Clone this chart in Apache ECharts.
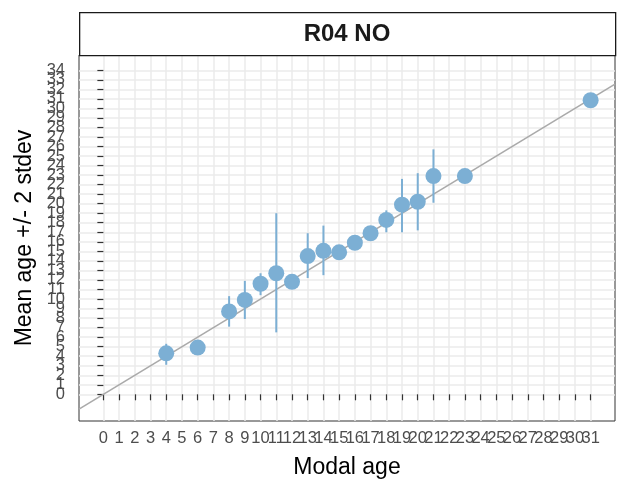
<!DOCTYPE html>
<html>
<head>
<meta charset="utf-8">
<script src="https://cdn.jsdelivr.net/npm/echarts@6/dist/echarts.min.js"></script>
<style>
html,body{margin:0;padding:0;background:#fff;}
#chart{width:621px;height:487px;}
</style>
</head>
<body>
<div id="chart"></div>
<script>
// Data
const panelTitle = "R04 NO";
const modalAge = [4, 6, 8, 9, 10, 11, 12, 13, 14, 15, 16, 17, 18, 19, 20, 21, 23, 31];
const meanAge  = [4.3, 4.9, 8.7, 9.9, 11.6, 12.7, 11.8, 14.5, 15.05, 14.9, 15.9, 16.9, 18.3, 19.9, 20.2, 22.9, 22.9, 30.85];
const lowerAge = [3.1, null, 7.1, 7.9, 10.4, 6.5, null, 12.2, 12.5, null, null, null, 17.0, 17.0, 17.2, 20.1, null, null];
const upperAge = [5.3, null, 10.3, 11.9, 12.7, 19.0, null, 16.9, 17.7, null, null, null, 19.3, 22.6, 23.2, 25.7, null, null];
const xTicks = Array.from({length: 32}, (_, i) => i);
const yTicks = Array.from({length: 35}, (_, i) => i);
const xLimits = [-1.55, 32.55];
const yLimits = [-2.8, 35.6];
const abline = {intercept: 0, slope: 1};

const pointColor = '#7cafd4';
const chart = echarts.init(document.getElementById('chart'), null, {renderer: 'canvas'});

const points = modalAge.map((x, i) => [x, meanAge[i]]);
const bars = modalAge.map((x, i) => [x, lowerAge[i], upperAge[i]]).filter(d => d[1] != null);
const lineData = xLimits.map(x => [x, abline.intercept + abline.slope * x]);

const font = '"Liberation Sans", Arial, sans-serif';
const labelStyle = {fontFamily: font, fontSize: 16.5, color: '#4d4d4d', hideOverlap: false};

// Main axes: ticks, grid lines, titles
const xMain = {
  type: 'value', min: xLimits[0], max: xLimits[1], position: 'bottom',
  name: 'Modal age', nameLocation: 'middle', nameGap: 35,
  nameTextStyle: {fontFamily: font, fontSize: 23, color: '#000000'},
  axisLine: {show: false},
  axisTick: {show: true, length: 6, customValues: xTicks, lineStyle: {color: '#333333', width: 1.2}},
  axisLabel: {show: false},
  splitLine: {show: true, lineStyle: {color: '#ebebeb', width: 1.5}}
};
const yMain = {
  type: 'value', min: yLimits[0], max: yLimits[1], position: 'left',
  name: 'Mean age +/- 2 stdev', nameLocation: 'middle', nameGap: 43,
  nameTextStyle: {fontFamily: font, fontSize: 23, color: '#000000'},
  axisLine: {show: false},
  axisTick: {show: true, length: 6, customValues: yTicks, lineStyle: {color: '#333333', width: 1.2}},
  axisLabel: {show: false},
  splitLine: {show: true, lineStyle: {color: '#ebebeb', width: 1.5}}
};
// Label-only axes (labels split in groups so ECharts does not drop end labels)
function labelAxis(limits, values, position, margin) {
  return {
    type: 'value', min: limits[0], max: limits[1], position: position, offset: 0,
    axisLine: {show: false}, axisTick: {show: false}, splitLine: {show: false},
    axisLabel: Object.assign({customValues: values, margin: margin}, labelStyle)
  };
}
const xAxes = [xMain].concat([0, 1].map(k => labelAxis(xLimits, xTicks.filter((v, i) => i % 2 === k), 'bottom', 9)));
const yAxes = [yMain].concat([0, 1, 2].map(k => labelAxis(yLimits, yTicks.filter((v, i) => i % 3 === k), 'left', 14)));

chart.setOption({
  animation: false,
  backgroundColor: '#ffffff',
  grid: {left: 79, right: 6, top: 55, bottom: 66, show: true, borderColor: '#333333', borderWidth: 1, backgroundColor: '#ffffff', containLabel: false},
  graphic: [
    {type: 'rect', left: 79, top: 12, shape: {width: 536, height: 43}, style: {fill: '#ffffff', stroke: '#1a1a1a', lineWidth: 1.3}, z: 10},
    {type: 'text', x: 347, y: 34, style: {text: panelTitle, font: 'bold 24px ' + font, fill: '#1a1a1a', textAlign: 'center', textVerticalAlign: 'middle'}, z: 11}
  ],
  xAxis: xAxes,
  yAxis: yAxes,
  series: [
    {
      type: 'line', data: lineData, showSymbol: false, silent: true, clip: true,
      lineStyle: {color: '#aaaaaa', width: 1.6}, z: 2
    },
    {
      type: 'custom', data: bars, clip: true, z: 3,
      renderItem: function (params, api) {
        const p1 = api.coord([api.value(0), api.value(1)]);
        const p2 = api.coord([api.value(0), api.value(2)]);
        return {type: 'line', shape: {x1: p1[0], y1: p1[1], x2: p2[0], y2: p2[1]}, style: {stroke: pointColor, lineWidth: 2}};
      },
      encode: {x: 0, y: [1, 2]}
    },
    {
      type: 'scatter', data: points, symbol: 'circle', symbolSize: 16,
      itemStyle: {color: pointColor, opacity: 1}, z: 4
    }
  ]
});
</script>
</body>
</html>
